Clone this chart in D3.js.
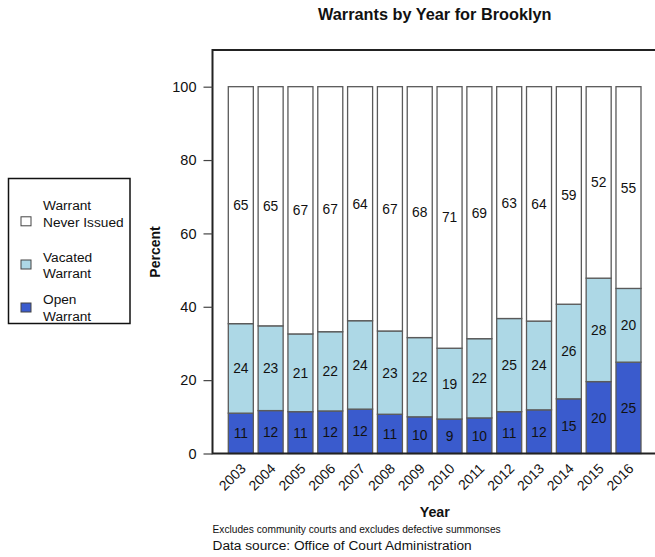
<!DOCTYPE html>
<html>
<head>
<meta charset="utf-8">
<script src="https://cdn.jsdelivr.net/npm/d3@7"></script>
<style>
  html, body { margin: 0; padding: 0; background: #fff; }
  svg { display: block; font-family: "Liberation Sans", Arial, Helvetica, sans-serif; }
</style>
</head>
<body>
<svg id="chart" width="655" height="557"></svg>
<script>
// Brooklyn warrant outcomes, percent of summonses per year
const years = ["2003","2004","2005","2006","2007","2008","2009","2010","2011","2012","2013","2014","2015","2016"];
const openWarrant    = [11.0, 11.7, 11.4, 11.6, 12.1, 10.7, 10.0, 9.4, 9.7, 11.4, 11.9, 14.9, 19.6, 24.9];
const vacatedWarrant = [24.4, 23.1, 21.2, 21.6, 24.1, 22.7, 21.6, 19.3, 21.6, 25.4, 24.2, 25.8, 28.2, 20.1];
const neverIssued    = [64.6, 65.2, 67.4, 66.8, 63.8, 66.6, 68.4, 71.3, 68.7, 63.2, 63.9, 59.3, 52.2, 55.0];
const yTicks = [0, 20, 40, 60, 80, 100];

const seriesNames = ["Open Warrant", "Vacated Warrant", "Warrant Never Issued"];
const seriesColors = ["#3a5bcd", "#add8e6", "#ffffff"];
const legendLines = [["Warrant", "Never Issued"], ["Vacated", "Warrant"], ["Open", "Warrant"]];

const svg = d3.select("#chart");

const plot = { left: 212.5, top: 50, right: 657, bottom: 453.5 };

const x = d3.scaleBand()
  .domain(years)
  .range([228.3, 641])
  .paddingInner(0.161)
  .paddingOuter(0);

const y = d3.scaleLinear()
  .domain([0, 110])
  .range([plot.bottom, plot.top]);

// stacked table built from the series arrays
const table = years.map((yr, i) => ({
  year: yr,
  "Open Warrant": openWarrant[i],
  "Vacated Warrant": vacatedWarrant[i],
  "Warrant Never Issued": neverIssued[i]
}));
const stacked = d3.stack().keys(seriesNames)(table);

const layers = svg.append("g")
  .selectAll("g")
  .data(stacked)
  .join("g")
  .attr("fill", (d, i) => seriesColors[i]);

layers.selectAll("rect")
  .data(d => d)
  .join("rect")
  .attr("x", d => x(d.data.year))
  .attr("y", d => y(d[1]))
  .attr("width", x.bandwidth())
  .attr("height", d => y(d[0]) - y(d[1]))
  .attr("stroke", "#5a5a5a")
  .attr("stroke-width", 1.3);

// segment value labels
layers.selectAll("text")
  .data(d => d)
  .join("text")
  .attr("x", d => x(d.data.year) + x.bandwidth() / 2)
  .attr("y", d => y((d[0] + d[1]) / 2))
  .attr("dy", "0.36em")
  .attr("text-anchor", "middle")
  .attr("fill", "#111")
  .attr("font-size", 13.8)
  .text(d => Math.round(d[1] - d[0]));

// plot frame
svg.append("rect")
  .attr("x", plot.left)
  .attr("y", plot.top)
  .attr("width", plot.right - plot.left)
  .attr("height", plot.bottom - plot.top)
  .attr("fill", "none")
  .attr("stroke", "#222")
  .attr("stroke-width", 2);

// y axis
const yAxis = svg.append("g")
  .attr("transform", `translate(${plot.left},0)`)
  .call(d3.axisLeft(y).tickValues(yTicks).tickSize(9).tickPadding(7).tickFormat(d3.format("d")));
yAxis.select(".domain").remove();
yAxis.selectAll(".tick line").attr("stroke", "#444").attr("stroke-width", 1.2);
yAxis.selectAll(".tick text")
  .attr("font-size", 14.5)
  .attr("fill", "#111")
  .attr("font-family", "Liberation Sans, Arial, sans-serif");

// x axis labels, slanted
const xAxis = svg.append("g")
  .attr("transform", `translate(0,${plot.bottom})`)
  .call(d3.axisBottom(x).tickSize(0).tickPadding(0));
xAxis.select(".domain").remove();
xAxis.selectAll(".tick text")
  .attr("font-size", 14)
  .attr("fill", "#111")
  .attr("font-family", "Liberation Sans, Arial, sans-serif")
  .attr("text-anchor", "end")
  .attr("dy", null)
  .attr("y", 0)
  .attr("transform", "translate(6,16) rotate(-45)");

// titles
svg.append("text")
  .attr("x", (plot.left + plot.right) / 2)
  .attr("y", 20)
  .attr("text-anchor", "middle")
  .attr("font-size", 16.3)
  .attr("font-weight", "bold")
  .attr("fill", "#111")
  .text("Warrants by Year for Brooklyn");

svg.append("text")
  .attr("x", (plot.left + plot.right) / 2)
  .attr("y", 517)
  .attr("text-anchor", "middle")
  .attr("font-size", 14.3)
  .attr("font-weight", "bold")
  .attr("fill", "#111")
  .text("Year");

svg.append("text")
  .attr("transform", "translate(160,252) rotate(-90)")
  .attr("text-anchor", "middle")
  .attr("font-size", 14)
  .attr("font-weight", "bold")
  .attr("fill", "#111")
  .text("Percent");

svg.append("text")
  .attr("x", 212.5)
  .attr("y", 533)
  .attr("font-size", 10.2)
  .attr("fill", "#111")
  .text("Excludes community courts and excludes defective summonses");

svg.append("text")
  .attr("x", 212.5)
  .attr("y", 549.5)
  .attr("font-size", 13.7)
  .attr("fill", "#111")
  .text("Data source: Office of Court Administration");

// legend
const legend = svg.append("g");
legend.append("rect")
  .attr("x", 8.5).attr("y", 178.5)
  .attr("width", 121.5).attr("height", 145)
  .attr("fill", "#fff")
  .attr("stroke", "#111")
  .attr("stroke-width", 1.5);

const legendOrder = [2, 1, 0];
const legendBoxY = [221.3, 264.5, 307.5];
const legendTextY = [[205, 222.5], [257, 272.7], [299.5, 316]];
legendOrder.forEach((si, r) => {
  legend.append("rect")
    .attr("x", 21).attr("y", legendBoxY[r] - 4.5)
    .attr("width", 10).attr("height", 9)
    .attr("fill", seriesColors[si])
    .attr("stroke", "#444")
    .attr("stroke-width", 1);
  legendLines[r].forEach((line, k) => {
    legend.append("text")
      .attr("x", 43)
      .attr("y", legendTextY[r][k])
      .attr("dy", "0.36em")
      .attr("font-size", 13.7)
      .attr("fill", "#111")
      .text(line);
  });
});
</script>
</body>
</html>
